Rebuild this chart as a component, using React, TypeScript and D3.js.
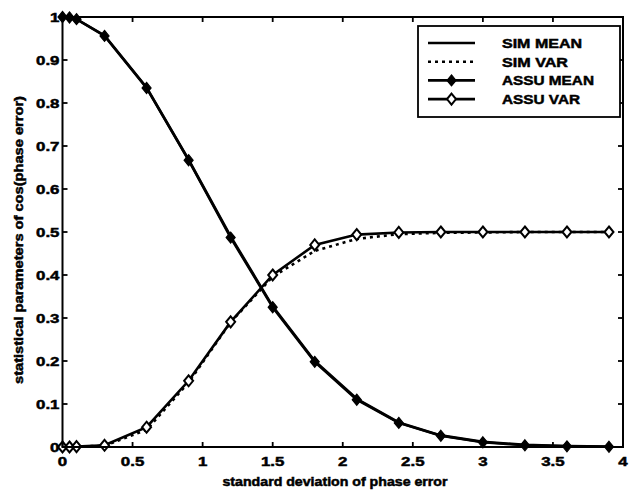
import * as d3 from "d3";

const W = 637, H = 493;
const M = { left: 62.5, right: 623, top: 17, bottom: 447 };

// sigma grid where ASSU markers sit
const SIGMA = [0, 0.05, 0.1, 0.3, 0.6, 0.9, 1.2, 1.5, 1.8, 2.1, 2.4, 2.7, 3.0, 3.3, 3.6, 3.9];
const ASSU_MEAN = [1, 0.999, 0.995, 0.956, 0.835, 0.667, 0.487, 0.325, 0.198, 0.11, 0.056, 0.026, 0.011, 0.004, 0.0015, 0.0005];
const ASSU_VAR = [0, 0, 0.001, 0.004, 0.046, 0.154, 0.291, 0.4, 0.47, 0.494, 0.499, 0.5, 0.5, 0.5, 0.5, 0.5];
const SIM_MEAN = [1, 0.999, 0.995, 0.957, 0.836, 0.668, 0.49, 0.327, 0.2, 0.112, 0.057, 0.027, 0.012, 0.005, 0.002, 0.001];
const SIM_VAR = [0, 0, 0.001, 0.003, 0.04, 0.15, 0.29, 0.396, 0.456, 0.484, 0.495, 0.498, 0.499, 0.5, 0.5, 0.5];

const X_TICKS = [0, 0.5, 1, 1.5, 2, 2.5, 3, 3.5, 4];
const Y_TICKS = [0, 0.1, 0.2, 0.3, 0.4, 0.5, 0.6, 0.7, 0.8, 0.9, 1];
const LEGEND = ["SIM MEAN", "SIM VAR", "ASSU MEAN", "ASSU VAR"];
const LEGEND_W = [80, 66, 92, 78];

const FONT = "'Liberation Sans', Arial, sans-serif";
const LW = 2.6;

const x = d3.scaleLinear().domain([0, 4]).range([M.left, M.right]);
const y = d3.scaleLinear().domain([0, 1]).range([M.bottom, M.top]);

const line = (vals: number[]) =>
  d3.line<number>().x((_, i) => x(SIGMA[i])).y(d => y(d))(vals) || "";

const diamond = (cx: number, cy: number, w: number, h: number) =>
  `M${cx},${cy - h}L${cx + w},${cy}L${cx},${cy + h}L${cx - w},${cy}Z`;

// heavy scanned-looking bold text
const heavy = { fontFamily: FONT, fontWeight: "bold" as const, stroke: "#000", strokeWidth: 0.5 };

export default function App() {
  const TL = 5;
  return (
    <svg width={W} height={H} style={{ position: "absolute", left: 0, top: 0, background: "#fff" }}>
      {/* curves */}
      <path d={line(SIM_MEAN)} fill="none" stroke="#000" strokeWidth={LW} />
      <path d={line(SIM_VAR)} fill="none" stroke="#000" strokeWidth={LW} strokeDasharray="3,4" />
      <path d={line(ASSU_MEAN)} fill="none" stroke="#000" strokeWidth={LW} />
      <path d={line(ASSU_VAR)} fill="none" stroke="#000" strokeWidth={LW} />
      {ASSU_MEAN.map((v, i) => (
        <path key={"m" + i} d={diamond(x(SIGMA[i]), y(v), 4.5, 5.5)} fill="#000" stroke="#000" strokeWidth={1.2} />
      ))}
      {ASSU_VAR.map((v, i) => (
        <path key={"v" + i} d={diamond(x(SIGMA[i]), y(v), 4.5, 5.5)} fill="#fff" stroke="#000" strokeWidth={2} />
      ))}

      {/* frame */}
      <rect x={M.left} y={M.top} width={M.right - M.left} height={M.bottom - M.top} fill="none" stroke="#000" strokeWidth={2} />

      {/* ticks */}
      {X_TICKS.map(t => (
        <g key={"x" + t}>
          <line x1={x(t)} x2={x(t)} y1={M.bottom} y2={M.bottom - TL} stroke="#000" strokeWidth={1.8} />
          <line x1={x(t)} x2={x(t)} y1={M.top} y2={M.top + TL} stroke="#000" strokeWidth={1.8} />
          <text transform={`translate(${x(t)},${M.bottom + 19}) scale(1.25,1)`} textAnchor="middle" fontSize={13.5} {...heavy}>
            {String(t)}
          </text>
        </g>
      ))}
      {Y_TICKS.map(t => (
        <g key={"y" + t}>
          <line x1={M.left} x2={M.left + TL} y1={y(t)} y2={y(t)} stroke="#000" strokeWidth={1.8} />
          <line x1={M.right} x2={M.right - TL} y1={y(t)} y2={y(t)} stroke="#000" strokeWidth={1.8} />
          <text transform={`translate(${M.left - 3},${y(t) + 5}) scale(1.25,1)`} textAnchor="end" fontSize={13.5} {...heavy}>
            {String(t)}
          </text>
        </g>
      ))}

      {/* axis titles */}
      <text x={335} y={486} textAnchor="middle" fontSize={12.5} {...heavy}
        textLength={225} lengthAdjust="spacingAndGlyphs">
        standard deviation of phase error
      </text>
      <text transform={`translate(23,240) rotate(-90)`} textAnchor="middle" fontSize={12.5} {...heavy}
        textLength={288} lengthAdjust="spacingAndGlyphs">
        statistical parameters of cos(phase error)
      </text>

      {/* legend */}
      <rect x={418} y={26} width={202} height={91} fill="#fff" stroke="#000" strokeWidth={1.8} />
      {LEGEND.map((name, i) => {
        const cy = 43 + i * 18.7;
        return (
          <g key={name}>
            <line x1={428} x2={475} y1={cy} y2={cy} stroke="#000" strokeWidth={LW}
              strokeDasharray={i === 1 ? "3,4" : undefined} />
            {i === 2 && <path d={diamond(451.5, cy, 4.5, 5.5)} fill="#000" stroke="#000" strokeWidth={1.2} />}
            {i === 3 && <path d={diamond(451.5, cy, 4.5, 5.5)} fill="#fff" stroke="#000" strokeWidth={2} />}
            <text x={502} y={cy + 5} fontSize={13.5} {...heavy}
              textLength={LEGEND_W[i]} lengthAdjust="spacingAndGlyphs">
              {name}
            </text>
          </g>
        );
      })}
    </svg>
  );
}
